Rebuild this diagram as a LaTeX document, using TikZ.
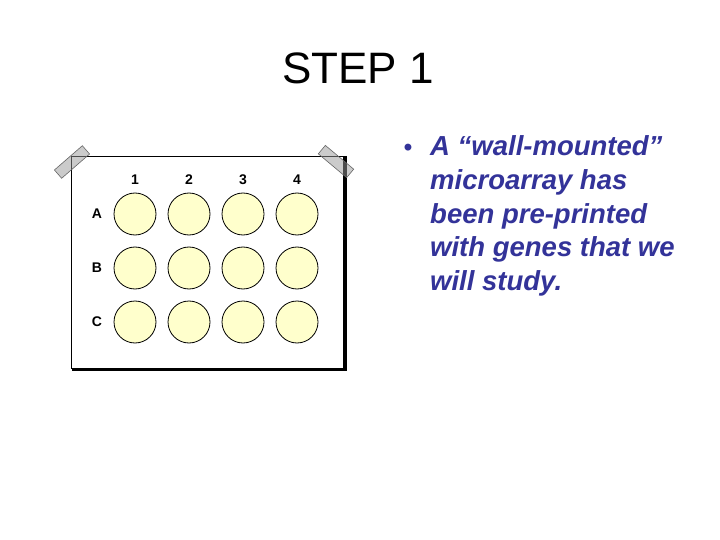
\documentclass[tikz,border=0pt]{standalone}
\usepackage{fontspec}
\setmainfont{Liberation Sans}
\begin{document}
\begin{tikzpicture}[x=1pt,y=-1pt,
  well/.style={circle,draw=black,line width=0.8pt,fill=wellfill,minimum size=42pt,inner sep=0pt},
  lab/.style={font=\fontsize{14}{16}\selectfont\bfseries,inner sep=0pt},
  tape/.style={draw=black!60,fill=black!40,fill opacity=0.5,line width=0.6pt},
  bul/.style={font=\fontsize{27.5}{30}\selectfont\bfseries\itshape,text=bluetext,inner sep=0pt,anchor=base west}]
\definecolor{wellfill}{HTML}{FFFFCC}
\definecolor{bluetext}{HTML}{333399}
\useasboundingbox[fill=white] (0,0) rectangle (720,540);
% title
\node[font=\fontsize{44}{48}\selectfont,inner sep=0pt,anchor=base] (title) at (358,84) {STEP 1};
% plate
\node[draw=black,fill=white,line width=0.8pt,minimum width=272pt,minimum height=212pt,inner sep=0pt,anchor=north west] (plate) at (71,156) {};
\draw[black,line width=2.6pt] ([xshift=1.5pt]plate.north east) -- ([xshift=1.5pt,yshift=-1.3pt]plate.south east) -- ([xshift=1pt,yshift=-1.3pt]plate.south west);
% tapes
\draw[tape,rotate around={41:(72,162)}] (53.5,156.5) rectangle (90.5,167.5);
\draw[tape,rotate around={-40:(336,161.5)}] (317.5,156) rectangle (354.5,167);
% column labels
\foreach \c/\x in {1/135,2/189,3/243,4/297}{
  \node[lab] (col\c) at (\x,180) {\c};
}
% row labels and wells
\foreach \r/\y in {A/214,B/268,C/322}{
  \node[lab] (row\r) at (97,\y) {\r};
  \foreach \c/\x in {1/135,2/189,3/243,4/297}{
    \node[well] (w\r\c) at (\x,\y) {};
  }
}
% bullet text
\node[font=\fontsize{24}{28}\selectfont\bfseries,text=bluetext,inner sep=0pt,anchor=base] (dot) at (408,156) {•};
\node[bul] (l1) at (430,156) {A “wall-mounted”};
\node[bul] (l2) at (430,189.5) {microarray has};
\node[bul] (l3) at (430,223) {been pre-printed};
\node[bul] (l4) at (430,256.5) {with genes that we};
\node[bul] (l5) at (430,290) {will study.};
\end{tikzpicture}
\end{document}
